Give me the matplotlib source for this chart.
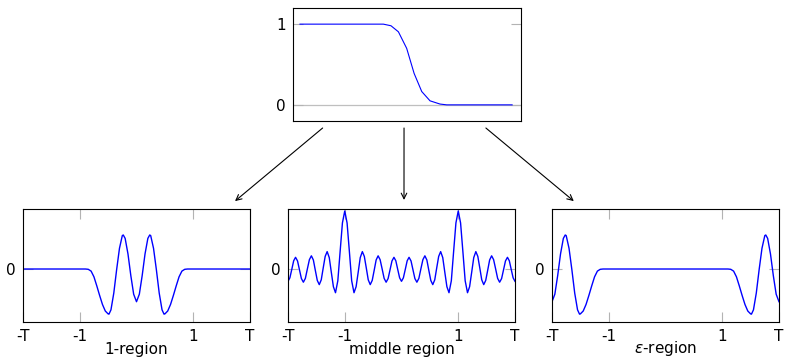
import matplotlib.pyplot as plt
from matplotlib.patches import ConnectionPatch

plt.rcParams['font.family'] = 'DejaVu Sans'
plt.rcParams['font.size'] = 11

# top panel: the step profile
step_x = [0.0, 0.393, 0.429, 0.464, 0.503, 0.538, 0.574, 0.613, 0.66, 0.692, 1.0]
step_y = [1.0, 1.0, 0.98, 0.905, 0.70, 0.39, 0.165, 0.05, 0.01, 0.0, 0.0]

# bottom panels share the x axis [-T, T] with T = 2
region_ticks = [-2, -1, 1, 2]
region_ticklabels = ['-T', '-1', '1', 'T']

# 1-region
one_x = [-2.0, -1.0, -0.95, -0.9, -0.85, -0.8, -0.75, -0.7, -0.65, -0.6, -0.55,
         -0.5, -0.485, -0.45, -0.4, -0.35, -0.3, -0.25, -0.233, -0.2, -0.15,
         -0.1, -0.05, 0.0, 0.05, 0.1, 0.15, 0.2, 0.233, 0.25, 0.3, 0.35, 0.4,
         0.45, 0.485, 0.5, 0.55, 0.6, 0.65, 0.7, 0.75, 0.8, 0.85, 0.9, 0.95,
         1.0, 2.0]
one_y = [0, 0, 0, 0, -0.005, -0.035, -0.13, -0.28, -0.44, -0.59, -0.70,
         -0.748, -0.752, -0.68, -0.40, -0.01, 0.345, 0.557, 0.567, 0.51, 0.25,
         -0.11, -0.42, -0.545, -0.42, -0.11, 0.25, 0.51, 0.567, 0.557, 0.345,
         -0.01, -0.40, -0.68, -0.752, -0.748, -0.70, -0.59, -0.44, -0.28,
         -0.13, -0.035, -0.005, 0, 0, 0, 0]

# middle region
mid_x = [-2.000, -1.967, -1.933, -1.900,
         -1.867, -1.832, -1.798, -1.764,
         -1.729, -1.694, -1.659, -1.623,
         -1.588, -1.553, -1.519, -1.484,
         -1.449, -1.414, -1.380, -1.345,
         -1.310, -1.273, -1.237, -1.200,
         -1.163, -1.122, -1.082, -1.041,
         -1.000, -0.959, -0.918, -0.878,
         -0.837, -0.800, -0.763, -0.727,
         -0.690, -0.655, -0.620, -0.586,
         -0.551, -0.516, -0.481, -0.447,
         -0.412, -0.377, -0.341, -0.306,
         -0.271, -0.236, -0.202, -0.168,
         -0.133, -0.100, -0.067, -0.033,
         0.000, 0.033, 0.067, 0.100,
         0.133, 0.168, 0.202, 0.236,
         0.271, 0.306, 0.341, 0.377,
         0.412, 0.447, 0.481, 0.516,
         0.551, 0.586, 0.620, 0.655,
         0.690, 0.727, 0.763, 0.800,
         0.837, 0.878, 0.918, 0.959,
         1.000, 1.041, 1.082, 1.122,
         1.163, 1.200, 1.237, 1.273,
         1.310, 1.345, 1.380, 1.414,
         1.449, 1.484, 1.519, 1.553,
         1.588, 1.623, 1.659, 1.694,
         1.729, 1.764, 1.798, 1.832,
         1.867, 1.900, 1.933, 1.967,
         2.000]
mid_y = [-0.205, -0.147, -0.005, 0.137,
         0.195, 0.134, -0.013, -0.159,
         -0.220, -0.156, 0.000, 0.156,
         0.220, 0.150, -0.020, -0.190,
         -0.260, -0.180, 0.015, 0.210,
         0.290, 0.190, -0.053, -0.295,
         -0.395, -0.196, 0.286, 0.768,
         0.967, 0.768, 0.286, -0.196,
         -0.395, -0.295, -0.053, 0.190,
         0.290, 0.210, 0.015, -0.180,
         -0.260, -0.190, -0.020, 0.150,
         0.220, 0.156, 0.000, -0.156,
         -0.220, -0.159, -0.013, 0.134,
         0.195, 0.137, -0.005, -0.147,
         -0.205, -0.147, -0.005, 0.137,
         0.195, 0.134, -0.013, -0.159,
         -0.220, -0.156, 0.000, 0.156,
         0.220, 0.150, -0.020, -0.190,
         -0.260, -0.180, 0.015, 0.210,
         0.290, 0.190, -0.053, -0.295,
         -0.395, -0.196, 0.286, 0.768,
         0.967, 0.768, 0.286, -0.196,
         -0.395, -0.295, -0.053, 0.190,
         0.290, 0.210, 0.015, -0.180,
         -0.260, -0.190, -0.020, 0.150,
         0.220, 0.156, 0.000, -0.156,
         -0.220, -0.159, -0.013, 0.134,
         0.195, 0.137, -0.005, -0.147,
         -0.205]

# epsilon-region
eps_x = [-2.0, -1.95, -1.9, -1.85, -1.8, -1.767, -1.75, -1.7, -1.65, -1.6,
         -1.55, -1.515, -1.5, -1.45, -1.4, -1.35, -1.3, -1.25, -1.2, -1.15,
         -1.1, -1.05, -1.0, 1.0, 1.05, 1.1, 1.15, 1.2, 1.25, 1.3, 1.35, 1.4,
         1.45, 1.5, 1.515, 1.55, 1.6, 1.65, 1.7, 1.75, 1.767, 1.8, 1.85, 1.9,
         1.95, 2.0]
eps_y = [-0.545, -0.42, -0.11, 0.25, 0.51, 0.567, 0.557, 0.345, -0.01, -0.40,
         -0.68, -0.752, -0.748, -0.70, -0.59, -0.44, -0.28, -0.13, -0.035,
         -0.005, 0, 0, 0, 0, 0, 0, -0.005, -0.035, -0.13, -0.28, -0.44, -0.59,
         -0.70, -0.748, -0.752, -0.68, -0.40, -0.01, 0.345, 0.557, 0.567, 0.51,
         0.25, -0.11, -0.42, -0.545]

panels = [
    (one_x, one_y, '1-region', -1.5),
    (mid_x, mid_y, 'middle region', -1.5),
    (eps_x, eps_y, r'$\epsilon$-region', -3.5),
]

W, H = 785, 361
fig = plt.figure(figsize=(W / 100, H / 100), dpi=100)


def add_axes_px(left, top, right, bottom):
    return fig.add_axes([left / W, 1 - bottom / H, (right - left) / W, (bottom - top) / H])


def style(ax):
    ax.tick_params(direction='in', length=7.5, width=0.8, color='0.7',
                   top=True, right=True, pad=5)
    for s in ax.spines.values():
        s.set_linewidth(0.8)


# top panel
ax_top = add_axes_px(293, 8, 521, 121)
ax_top.axhline(0, color='0.75', lw=0.9, zorder=1)
ax_top.plot(step_x, step_y, color='blue', lw=0.8, zorder=2)
ax_top.set_xlim(-0.033, 1.042)
ax_top.set_ylim(-0.2, 1.2)
ax_top.set_xticks([])
ax_top.set_yticks([0, 1])
ax_top.set_yticklabels(['0', '1'])
style(ax_top)

# bottom panels
lefts = [23, 288, 552]
axes = []
for left, (xs, ys, label, lpad) in zip(lefts, panels):
    ax = add_axes_px(left, 209, left + 227, 322)
    ax.plot(xs, ys, color='blue', lw=1.0)
    ax.set_xlim(-2, 2)
    ax.set_ylim(-0.883, 1.0)
    ax.set_xticks(region_ticks)
    ax.set_xticklabels(region_ticklabels)
    ax.set_yticks([0])
    ax.set_yticklabels(['0'])
    ax.set_xlabel(label, labelpad=lpad)
    style(ax)
    axes.append(ax)

# arrows from the top panel to each region
starts = [(0.13, -0.062), (0.487, -0.062), (0.846, -0.062)]
ends = [(0.934, 1.07), (0.511, 1.08), (0.096, 1.07)]
for ax, a, b in zip(axes, starts, ends):
    arrow = ConnectionPatch(a, b, coordsA=ax_top.transAxes, coordsB=ax.transAxes,
                            arrowstyle='->', color='black', lw=0.8,
                            shrinkA=0, shrinkB=0, mutation_scale=10)
    fig.add_artist(arrow)

fig.savefig('out.png', dpi=100)
